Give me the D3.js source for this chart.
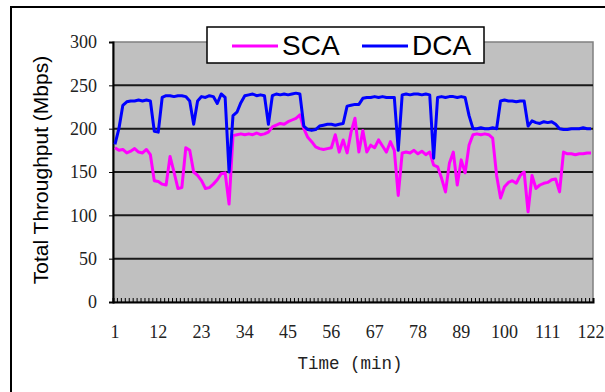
<!DOCTYPE html>
<html>
<head>
<meta charset="utf-8">
<script src="https://cdn.jsdelivr.net/npm/d3@7"></script>
<style>
  body { margin: 0; background: #fff; }
  svg { display: block; }
</style>
</head>
<body>
<svg id="chart"></svg>
<script>
  // time in minutes 1..122
  var minutes = d3.range(1, 123);

  var sca = [178,175,176,172,174,177,173,172,176,170,
             140,139,136,135,168,150,131,132,178,175,
             150,146,140,131,132,136,141,148,149,113,
             192,193,194,193,194,193,195,193,194,196,
             202,204,206,205,208,210,212,216,200,190,
             185,179,177,176,177,178,193,173,187,172,
             196,212,173,198,173,181,178,187,180,173,
             185,175,123,172,173,172,175,171,174,170,
             173,158,156,143,127,160,173,135,164,149,
             181,193,194,193,194,193,189,146,120,133,
             138,140,137,146,150,104,146,131,135,137,
             138,141,142,127,173,171,171,170,171,171,
             172,172];

  var dca = [182,200,227,231,232,232,233,232,233,232,
             197,196,236,238,238,237,238,238,237,232,
             205,232,237,236,238,237,229,240,236,150,
             215,219,230,238,239,240,238,239,238,205,
             238,240,239,240,239,240,241,240,203,199,
             198,199,203,204,205,205,204,205,206,226,
             227,228,228,235,236,236,237,236,237,236,
             236,236,175,239,240,239,240,240,239,240,
             239,166,236,237,236,237,237,236,237,236,
             215,200,200,201,200,200,201,200,232,233,
             232,232,231,232,232,203,209,207,206,208,
             207,208,205,200,199,199,200,200,200,201,
             200,200];

  var yTicks = [0, 50, 100, 150, 200, 250, 300];
  var xLabels = [1, 12, 23, 34, 45, 56, 67, 78, 89, 100, 111, 122];

  var W = 605, H = 392;
  var plot = { left: 113, right: 593, top: 42, bottom: 302 };

  var svg = d3.select('#chart').attr('width', W).attr('height', H);

  // outer frame (runs off the page on right and bottom)
  svg.append('rect')
    .attr('x', 11).attr('y', 7)
    .attr('width', 640).attr('height', 420)
    .attr('fill', '#fff')
    .attr('stroke', '#000').attr('stroke-width', 2);

  var x = d3.scalePoint().domain(minutes).range([plot.left, plot.right]).padding(0.5);
  var y = d3.scaleLinear().domain([0, 300]).range([plot.bottom, plot.top]);

  // plot background
  svg.append('rect')
    .attr('x', plot.left).attr('y', plot.top)
    .attr('width', plot.right - plot.left).attr('height', plot.bottom - plot.top)
    .attr('fill', '#c0c0c0')
    .attr('stroke', '#808080').attr('stroke-width', 1.5);

  // gridlines
  svg.append('g').selectAll('line')
    .data(yTicks.filter(function(d){ return d > 0 && d < 300; }))
    .enter().append('line')
    .attr('x1', plot.left).attr('x2', plot.right)
    .attr('y1', function(d){ return y(d); })
    .attr('y2', function(d){ return y(d); })
    .attr('stroke', '#1a1a1a').attr('stroke-width', 2);

  // y axis
  var yAxis = svg.append('g')
    .attr('transform', 'translate(' + plot.left + ',0)')
    .call(d3.axisLeft(y).tickValues(yTicks).tickSize(4).tickPadding(12));
  yAxis.select('.domain').attr('stroke', '#000').attr('stroke-width', 2);
  yAxis.selectAll('text')
    .attr('font-family', '"Liberation Serif", serif')
    .attr('font-size', 18).attr('fill', '#222');

  // x axis: tick per minute pointing up, labels every 11
  var step = x.step();
  var xAxis = svg.append('g')
    .attr('transform', 'translate(0,' + plot.bottom + ')')
    .call(d3.axisBottom(x).tickValues(minutes).tickSize(-4).tickFormat(''));
  xAxis.selectAll('.tick line')
    .attr('transform', 'translate(' + (step / 2) + ',0)')
    .attr('stroke', '#000');
  xAxis.select('.domain').attr('stroke', '#000').attr('stroke-width', 2);

  svg.append('g').selectAll('text')
    .data(xLabels)
    .enter().append('text')
    .attr('x', function(d){ return x(d); })
    .attr('y', 338)
    .attr('text-anchor', 'middle')
    .attr('font-family', '"Liberation Serif", serif')
    .attr('font-size', 18).attr('fill', '#222')
    .text(function(d){ return d; });

  // series
  var line = d3.line()
    .x(function(d, i){ return x(minutes[i]); })
    .y(function(d){ return y(d); });

  svg.append('path').datum(sca)
    .attr('d', line).attr('fill', 'none')
    .attr('stroke', '#ff00ff').attr('stroke-width', 3).attr('stroke-linejoin', 'round');

  svg.append('path').datum(dca)
    .attr('d', line).attr('fill', 'none')
    .attr('stroke', '#0000ff').attr('stroke-width', 3).attr('stroke-linejoin', 'round');

  // legend
  svg.append('rect')
    .attr('x', 207).attr('y', 27).attr('width', 277).attr('height', 36)
    .attr('fill', '#fff').attr('stroke', '#000').attr('stroke-width', 1.5);

  var legend = [
    { name: 'SCA', color: '#ff00ff', x: 232 },
    { name: 'DCA', color: '#0000ff', x: 362 }
  ];
  legend.forEach(function(l){
    svg.append('line')
      .attr('x1', l.x).attr('x2', l.x + 46)
      .attr('y1', 46).attr('y2', 46)
      .attr('stroke', l.color).attr('stroke-width', 3);
    svg.append('text')
      .attr('x', l.x + 50).attr('y', 55)
      .attr('font-family', '"Liberation Sans", Arial, sans-serif')
      .attr('font-size', 28).attr('fill', '#000')
      .text(l.name);
  });

  // axis titles
  svg.append('text')
    .attr('transform', 'translate(48,170) rotate(-90)')
    .attr('text-anchor', 'middle')
    .attr('font-family', '"Liberation Sans", Arial, sans-serif')
    .attr('font-size', 21).attr('fill', '#000')
    .text('Total Throughput (Mbps)');

  svg.append('text')
    .attr('x', 350).attr('y', 369)
    .attr('text-anchor', 'middle')
    .attr('font-family', '"Liberation Mono", monospace')
    .attr('font-size', 17.5).attr('fill', '#222')
    .text('Time (min)');
</script>
</body>
</html>
